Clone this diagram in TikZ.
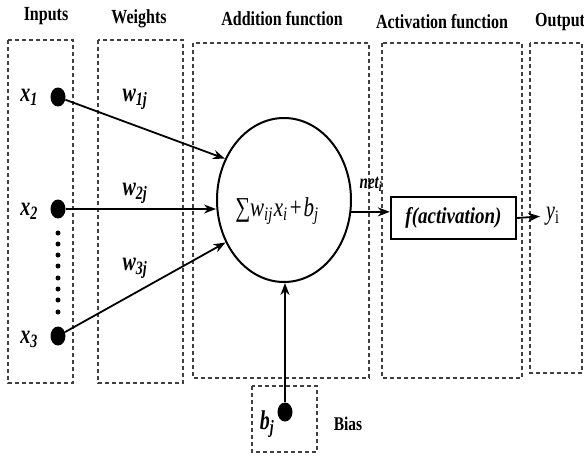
\documentclass[tikz,border=0pt]{standalone}
\usepackage{fontspec}
\setmainfont{Liberation Serif}
\usepackage{graphicx}
\usetikzlibrary{shapes.geometric,arrows.meta}
\newcommand{\tallhead}[1]{\scalebox{1}[1.25]{#1}}
\newcommand{\talllab}[1]{\scalebox{1}[1.35]{#1}}
\begin{document}
\begin{tikzpicture}[x=1pt,y=-1pt,
  dbox/.style={draw=black!75, dash pattern=on 4pt off 3pt, line width=1.1pt},
  head/.style={font=\fontsize{16}{18}\selectfont\bfseries, inner sep=0},
  lab/.style={font=\fontsize{20}{22}\selectfont\bfseries\itshape, inner sep=0},
  bigdot/.style={ellipse, fill=black, minimum width=15pt, minimum height=19pt, inner sep=0},
  smalldot/.style={circle, fill=black, minimum size=5pt, inner sep=0},
  arr/.style={line width=1.8pt, -{Stealth[length=12pt,width=9pt]}},
]
\useasboundingbox (0,0) rectangle (584,458);
% dashed boxes
\draw[dbox] (8,40) rectangle (73,383);
\draw[dbox] (98,40) rectangle (183,383);
\draw[dbox] (193,43) rectangle (369,378);
\draw[dbox] (382,43) rectangle (522,378);
\draw[dbox] (530,43) rectangle (582,373);
\draw[dbox] (252,386) rectangle (317,452);
% headers
\node[head] (hin) at (46,16) {\tallhead{Inputs}};
\node[head] (hw) at (139,19) {\tallhead{Weights}};
\node[head] (hadd) at (282,19) {\tallhead{Addition function}};
\node[head] (hact) at (442,22) {\tallhead{Activation function}};
\node[head, anchor=west] (hout) at (535,22) {\tallhead{Output}};
% input dots
\node[bigdot] (x1) at (58,97) {};
\node[bigdot] (x2) at (58,209) {};
\node[bigdot] (x3) at (58,336) {};
\foreach \yy [count=\k] in {233,244,255,266,278,289,300,312}
  \node[smalldot] (d\k) at (58,\yy) {};
% input labels
\node[lab] (lx1) at (29,97) {\talllab{x\textsubscript{1}}};
\node[lab] (lx2) at (29,211) {\talllab{x\textsubscript{2}}};
\node[lab] (lx3) at (29,339) {\talllab{x\textsubscript{3}}};
% weights
\node[lab] (w1) at (135,99) {\talllab{w\textsubscript{1j}}};
\node[lab] (w2) at (135,193) {\talllab{w\textsubscript{2j}}};
\node[lab] (w3) at (135,268) {\talllab{w\textsubscript{3j}}};
% summation ellipse
\node[ellipse, draw, line width=2pt, minimum width=134pt, minimum height=164pt, inner sep=0] (sum) at (284,200) {};
\node[font=\fontsize{21}{23}\selectfont\itshape, inner sep=0] (sumtxt) at (277,211)
  {\scalebox{1}[1.3]{{\upshape ∑}w\textsubscript{ij}\kern1pt x\textsubscript{i}\kern2pt{\upshape +}\kern2pt b\textsubscript{j}}};
% arrows from inputs
\draw[arr] (x1) -- (sum.145);
\draw[arr] (x2) -- (x2 -| sum.west);
\draw[arr] (x3) -- (sum.216);
% activation box
\node[draw, line width=2.4pt, minimum width=125pt, minimum height=42pt, inner sep=0,
  font=\fontsize{19}{21}\selectfont\bfseries\itshape] (fbox) at (453.5,218) {\scalebox{1}[1.2]{f(activation)}};
\draw[arr] (sum.-10) -- (sum.-10 -| fbox.west);
\node[font=\fontsize{15}{17}\selectfont\bfseries\itshape, inner sep=0] (net) at (371,184) {\talllab{net\textsubscript{i}}};
% output
\node[font=\fontsize{20}{22}\selectfont\itshape, inner sep=0, anchor=west] (yi) at (546,216) {\talllab{y\textsubscript{\upshape i}}};
\draw[arr, shorten >=6pt] (fbox.east) -- (yi.west);
% bias
\node[bigdot] (bdot) at (285,412) {};
\draw[arr] (bdot) -- (sum.south -| bdot);
\node[lab] (lb) at (267,424) {\talllab{b\textsubscript{j}}};
\node[font=\fontsize{15.5}{17}\selectfont\bfseries, inner sep=0] (bias) at (348,424) {\tallhead{Bias}};
\end{tikzpicture}
\end{document}
